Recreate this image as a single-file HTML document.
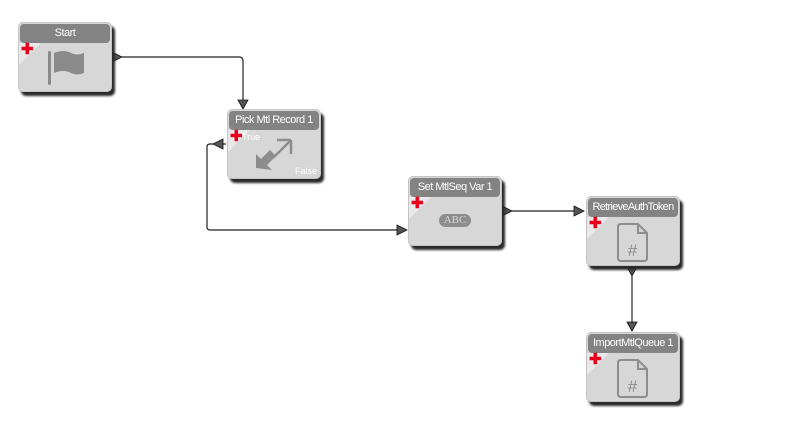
<!DOCTYPE html>
<html><head><style>
body{margin:0;width:800px;height:448px;background:#fff;position:relative;overflow:hidden;font-family:"Liberation Sans",sans-serif}
.n{position:absolute;width:94px;height:70px;background:#d7d7d7;border-radius:5px;box-shadow:3px 4px 2px #2a2a2a;border:1px solid #c4c4c4;box-sizing:border-box;overflow:hidden}
.h{height:19px;margin:1px;background:#838383;border-radius:4px;color:#fff;font-size:11px;text-align:center;line-height:19px;white-space:nowrap;overflow:hidden;letter-spacing:-0.5px}
.c{position:absolute;left:0;top:20px;width:0;height:0;border-top:22px solid #e9e9e9;border-right:22px solid transparent}
.p{position:absolute;left:2px;top:19px;color:#e8001c;font-weight:bold;font-size:15px;line-height:15px}
.ic{position:absolute;left:0;top:0}
</style></head><body>
<svg width="800" height="448" style="position:absolute;left:0;top:0">
<g fill="none" stroke="#222" stroke-width="1.2">
<path d="M122 57 H239 Q243 57 243 61 V100"/>
<path d="M226 144 H210 Q207 144 207 147 V227 Q207 230 210 230 H397"/>
<path d="M512 211 H574"/>
<path d="M632 276 V322"/>
</g>
<g fill="#555" stroke="#111" stroke-width="0.8">
<path d="M112 52 L122 57 L112 62Z"/>
<path d="M238 100 L248 100 L243 109Z"/>
<path d="M223 139 L223 149 L213 144Z"/>
<path d="M397 225 L397 235 L407 230Z"/>
<path d="M502 206 L512 211 L502 216Z"/>
<path d="M574 206 L584 211 L574 216Z"/>
<path d="M627 267 L637 267 L632 276Z"/>
<path d="M627 322 L637 322 L632 331Z"/>
</g>
</svg>

<div class="n" style="left:18px;top:22px"><div class="h">Start</div><div class="c"></div><div class="p">✚</div>
<svg class="ic" width="94" height="70"><rect x="29" y="28" width="3" height="34" rx="1.5" fill="#8a8a8a"/><path d="M35 30 Q45 26 52 30 Q58 33 65 30 V50 Q58 53 52 50 Q45 46 35 50Z" fill="#8a8a8a"/></svg></div>

<div class="n" style="left:227px;top:109px"><div class="h">Pick Mtl Record 1</div><div class="c"></div><div class="p">✚</div>
<span style="position:absolute;left:14px;top:22px;color:#fff;font-size:9px">True</span>
<span style="position:absolute;right:3px;bottom:2px;color:#fff;font-size:9px">False</span>
<svg class="ic" width="94" height="70"><path d="M28 58 L28 44 L33 49 L42 40 L48 46 L39 55 L44 60Z" fill="#8d8d8d"/><path d="M63 30 L63 44 M63 30 L49 30 M63 30 L45 48" stroke="#8d8d8d" stroke-width="2.5" fill="none"/></svg></div>

<div class="n" style="left:408px;top:176px"><div class="h">Set MtlSeq Var 1</div><div class="c"></div><div class="p">✚</div>
<div style="position:absolute;left:30px;top:37px;width:32px;height:13px;border-radius:7px;background:#8d8d8d;color:#d7d7d7;font-family:'Liberation Serif',serif;font-size:11px;line-height:13px;text-align:center">ABC</div></div>

<div class="n" style="left:586px;top:196px"><div class="h" style="letter-spacing:-0.7px">RetrieveAuthToken</div><div class="c"></div><div class="p">✚</div>
<svg class="ic" width="94" height="70"><path d="M34 27 H51 L60 36 V61 Q60 64 57 64 H34 Q31 64 31 61 V30 Q31 27 34 27Z M51 27 V36 H60" fill="none" stroke="#8d8d8d" stroke-width="2"/><text x="45.5" y="59" font-size="17" fill="#8d8d8d" text-anchor="middle" font-family="Liberation Sans">#</text></svg></div>

<div class="n" style="left:586px;top:332px"><div class="h">ImportMtlQueue 1</div><div class="c"></div><div class="p">✚</div>
<svg class="ic" width="94" height="70"><path d="M34 27 H51 L60 36 V61 Q60 64 57 64 H34 Q31 64 31 61 V30 Q31 27 34 27Z M51 27 V36 H60" fill="none" stroke="#8d8d8d" stroke-width="2"/><text x="45.5" y="59" font-size="17" fill="#8d8d8d" text-anchor="middle" font-family="Liberation Sans">#</text></svg></div>
</body></html>
